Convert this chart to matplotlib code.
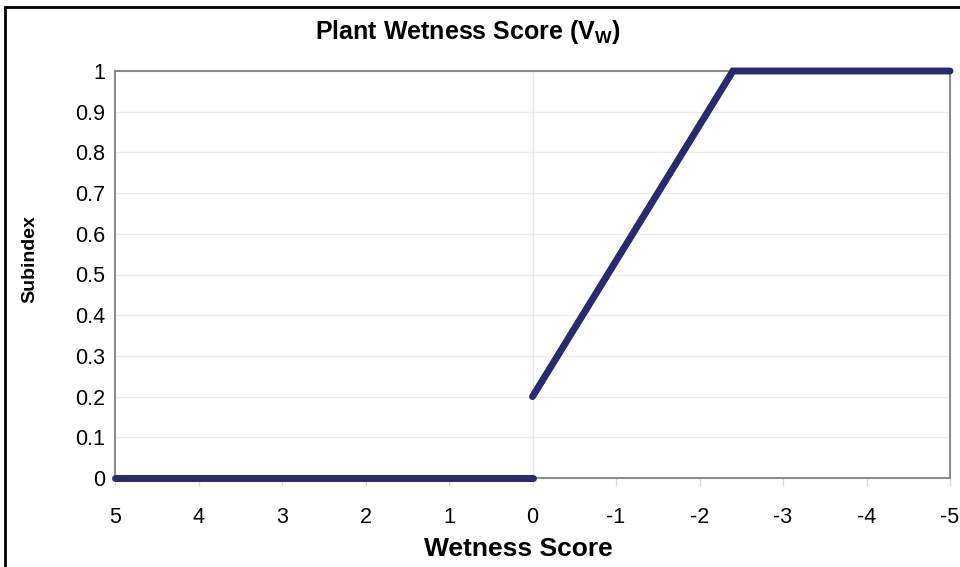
import matplotlib
matplotlib.use('Agg')
import matplotlib.pyplot as plt
from matplotlib.patches import Rectangle

plt.rcParams['font.family'] = ['Liberation Sans', 'DejaVu Sans']
plt.rcParams['mathtext.fontset'] = 'custom'
plt.rcParams['mathtext.rm'] = 'Liberation Sans:bold'
plt.rcParams['mathtext.bf'] = 'Liberation Sans:bold'

# wetness score -> subindex, two pieces
score_low = [5, 0]
sub_low = [0, 0]
score_high = [0, -2.4, -5]
sub_high = [0.2, 1, 1]

xticks = [5, 4, 3, 2, 1, 0, -1, -2, -3, -4, -5]
yticks = [0, 0.1, 0.2, 0.3, 0.4, 0.5, 0.6, 0.7, 0.8, 0.9, 1]

navy = '#2a2a6c'

fig = plt.figure(figsize=(9.6, 5.67), dpi=100)
ax = fig.add_axes([115 / 960, 1 - 478 / 567, 835 / 960, 407 / 567])

ax.plot(score_low, sub_low, color=navy, lw=5, solid_capstyle='round', zorder=3, clip_on=False)
ax.plot(score_high, sub_high, color=navy, lw=5, solid_capstyle='round',
        solid_joinstyle='miter', zorder=3, clip_on=False)

ax.set_xlim(5, -5)
ax.set_ylim(0, 1)
ax.set_xticks(xticks)
ax.set_xticklabels([str(t) for t in xticks])
ax.set_yticks(yticks)
ax.set_yticklabels(['0' if t == 0 else ('1' if t == 1 else str(t)) for t in yticks])
ax.tick_params(axis='both', labelsize=15.5, color='#d8d8d8', width=1)
ax.tick_params(axis='y', length=0, pad=7)
ax.tick_params(axis='x', length=6, pad=15)

for t in yticks[1:-1]:
    ax.axhline(t, color='#ececec', lw=1, zorder=1)
ax.axvline(0, color='#e4e4e4', lw=1, zorder=1)

for s in ax.spines.values():
    s.set_color('#8c8c8c')
    s.set_linewidth(1.5)

ax.set_xlabel('Wetness Score', fontsize=19, fontweight='bold', va='center')
ax.xaxis.set_label_coords((518 - 115) / 835, (478 - 549) / 407)
ax.set_ylabel('Subindex', fontsize=14, fontweight='bold', va='center')
ax.yaxis.set_label_coords((30 - 115) / 835, (478 - 259) / 407)
fig.text(468 / 960, 1 - 32 / 567, r'Plant Wetness Score (V$_\mathrm{W}$)', fontsize=18,
         fontweight='bold', ha='center', va='center')

fig.patches.append(Rectangle((5 / 960, -0.1), 1.1, 1 - 7 / 567 + 0.1, transform=fig.transFigure,
                             fill=False, edgecolor='black', lw=2))

fig.savefig('out.png', dpi=100)
